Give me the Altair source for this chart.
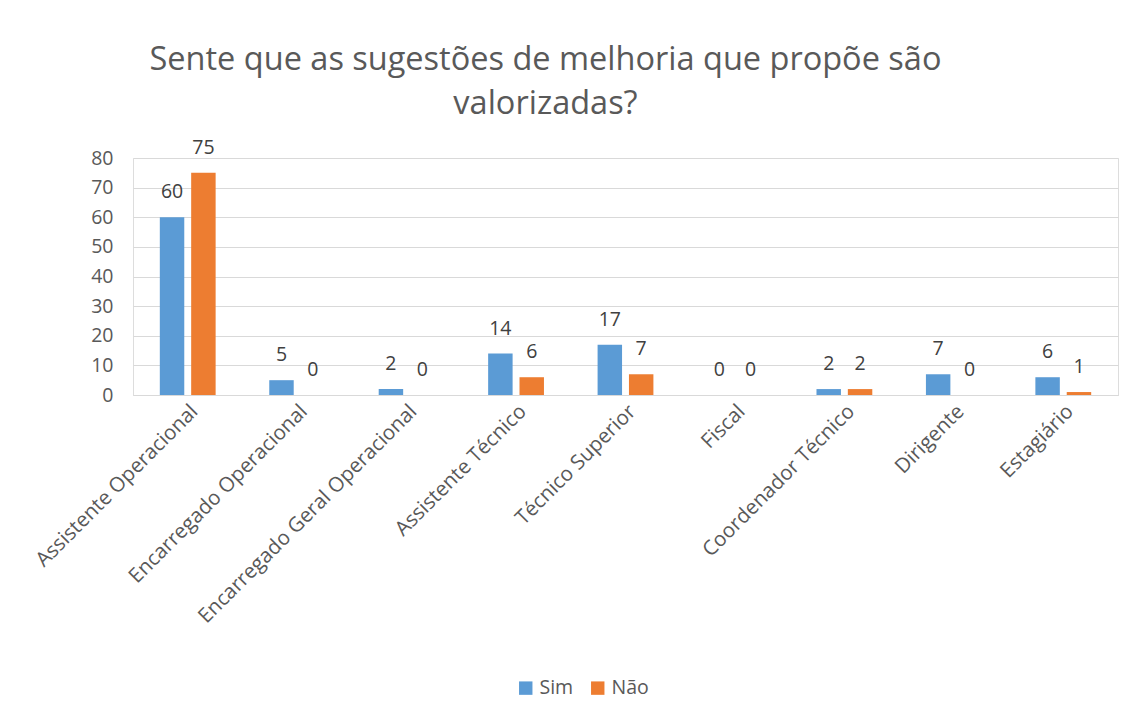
import altair as alt
import pandas as pd

categories = ["Assistente Operacional", "Encarregado Operacional", "Encarregado Geral Operacional",
              "Assistente Técnico", "Técnico Superior", "Fiscal", "Coordenador Técnico",
              "Dirigente", "Estagiário"]
sim = [60, 5, 2, 14, 17, 0, 2, 7, 6]
nao = [75, 0, 0, 6, 7, 0, 2, 0, 1]
series = ["Sim", "Não"]
colors = ["#5B9BD5", "#ED7D31"]

rows = []
for c, s, n in zip(categories, sim, nao):
    rows.append({"cat": c, "serie": "Sim", "val": s})
    rows.append({"cat": c, "serie": "Não", "val": n})
df = pd.DataFrame(rows)

FONT = "Open Sans"

x = alt.X("cat:N", sort=categories, title=None,
          scale=alt.Scale(paddingInner=0.49, paddingOuter=0.245),
          axis=alt.Axis(labelAngle=-45, labelFontSize=20.5, labelColor="#595959", labelFont=FONT,
                        ticks=False, domainColor="#d9d9d9", labelPadding=6, labelLimit=400))
xo = alt.XOffset("serie:N", sort=series, scale=alt.Scale(paddingInner=0.22, paddingOuter=0))
y = alt.Y("val:Q", title=None, scale=alt.Scale(domain=[0, 80]),
          axis=alt.Axis(values=list(range(0, 81, 10)), labelFontSize=19.5, labelColor="#595959",
                        labelFont=FONT, ticks=False, domain=False, gridColor="#d9d9d9",
                        labelPadding=20))
color = alt.Color("serie:N", sort=series, scale=alt.Scale(domain=series, range=colors),
                  legend=alt.Legend(title=None, orient="none", direction="horizontal",
                                    legendX=383, legendY=520, symbolType="square",
                                    symbolSize=180, symbolStrokeWidth=0, labelFontSize=19.5,
                                    labelColor="#595959", labelFont=FONT, columnPadding=14,
                                    symbolOpacity=1))

bars = alt.Chart(df).mark_bar(stroke=None).encode(x=x, xOffset=xo, y=y, color=color)
labels = alt.Chart(df).mark_text(baseline="bottom", dy=-15, fontSize=19.5, color="#404040",
                                 font=FONT).encode(x=x, xOffset=xo, y=y, text="val:Q")

chart = (bars + labels).properties(
    width=985, height=237,
    title=alt.TitleParams(["Sente que as sugestões de melhoria que propõe são", "valorizadas?"],
                          fontSize=32.5, font=FONT, color="#595959", fontWeight="normal",
                          anchor="middle", dx=-80, lineHeight=44, offset=17),
    autosize=alt.AutoSizeParams(type="none"),
    padding={"left": 125, "top": 150, "right": 8, "bottom": 315},
).configure_view(stroke=None).configure(background="white")

chart.save("out.html", embed_options={"renderer": "svg", "actions": False})
